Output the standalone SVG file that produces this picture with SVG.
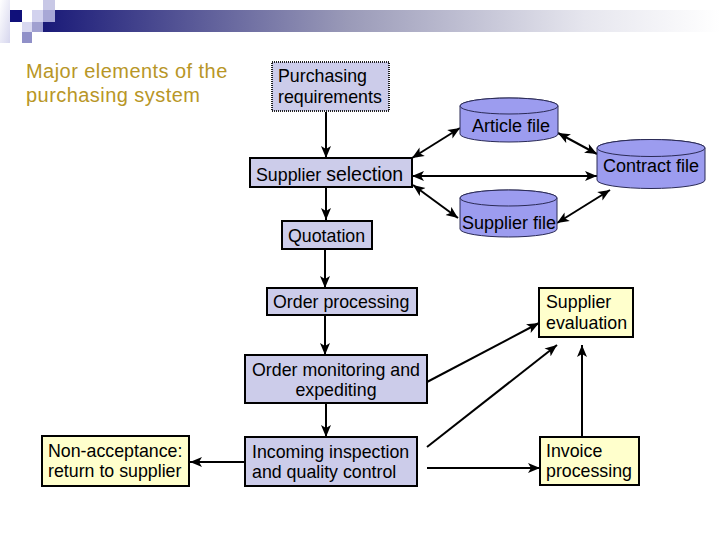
<svg xmlns="http://www.w3.org/2000/svg" width="720" height="540" viewBox="0 0 720 540">
<defs>
<linearGradient id="bar" x1="0" y1="0" x2="1" y2="0">
<stop offset="0" stop-color="#1a1a78"/>
<stop offset="0.45" stop-color="#9a9ab8"/>
<stop offset="0.8" stop-color="#e6e6ee"/>
<stop offset="1" stop-color="#ffffff"/>
</linearGradient>
<linearGradient id="fade" x1="0" y1="0" x2="1" y2="1">
<stop offset="0" stop-color="#ffffff"/>
<stop offset="1" stop-color="#d6d6ee"/>
</linearGradient>
<marker id="ah" markerUnits="userSpaceOnUse" markerWidth="13" markerHeight="11" refX="12" refY="5" orient="auto-start-reverse" viewBox="0 0 13 10">
<path d="M0,0 L12,5 L0,10 L3,5 Z" fill="#000"/>
</marker>
<style>
.box{fill:#ccccea;stroke:#000;stroke-width:2}
.ybox{fill:#ffffcc;stroke:#000;stroke-width:2}
.dot{fill:#ccccea;stroke:#222;stroke-width:2;stroke-dasharray:1 1}
.cyl{fill:#9c9cef;stroke:#2a2a55;stroke-width:1}
.t{font-family:"Liberation Sans",Arial,sans-serif;font-size:17.8px;fill:#000}
.ct{font-family:"Liberation Sans",Arial,sans-serif;font-size:18px;fill:#000;text-anchor:middle}
.title{font-family:"Liberation Sans",Arial,sans-serif;font-size:20px;letter-spacing:0.45px;fill:#b89626}
.c{stroke:#000;stroke-width:2;fill:none}
.e{marker-end:url(#ah)}
.b{marker-start:url(#ah);marker-end:url(#ah)}
</style>
</defs>
<g id="header">
<rect x="43" y="10" width="677" height="22" fill="url(#bar)"/>
<rect x="0" y="0" width="10" height="43" fill="url(#fade)"/>
<rect x="10" y="10" width="12" height="12" fill="#10107a"/>
<rect x="43" y="0" width="12" height="10" fill="#c8c8e6"/>
<rect x="32" y="10" width="11" height="12" fill="#d2d2ee"/>
<rect x="43" y="10" width="12" height="12" fill="#a8a8d6"/>
<rect x="22" y="22" width="10" height="10" fill="#d8d8f0"/>
<rect x="32" y="22" width="11" height="10" fill="#a0a0d0"/>
<rect x="22" y="32" width="10" height="11" fill="#9090c8"/>
</g>
<g id="title">
<text class="title" x="26" y="78">Major elements of the</text>
<text class="title" x="26" y="102">purchasing system</text>
</g>
<g id="connectors">
<path class="c e" d="M326,112 L326,158"/>
<path class="c e" d="M326,187 L326,220"/>
<path class="c e" d="M325,249 L325,288"/>
<path class="c e" d="M325,315 L325,355"/>
<path class="c e" d="M326,403 L326,437"/>
<path class="c e" d="M245,462 L190,462"/>
<path class="c e" d="M427,382 L539,323"/>
<path class="c e" d="M427,447 L557,345"/>
<path class="c e" d="M427,468 L540,468"/>
<path class="c e" d="M582,437 L582,345"/>
<path class="c b" d="M412,158 L460,128"/>
<path class="c b" d="M412,176 L597,176"/>
<path class="c b" d="M413,185 L458,218"/>
<path class="c b" d="M558,133 L597,154"/>
<path class="c b" d="M557,223 L610,190"/>
</g>
<g id="purchasing-requirements">
<rect class="dot" x="272" y="62" width="117" height="49"/>
<text class="t" x="278" y="82">Purchasing</text>
<text class="t" x="278" y="103">requirements</text>
</g>
<g id="supplier-selection">
<rect class="box" x="250" y="158" width="162" height="29"/>
<text class="t" x="256" y="181">Supplier <tspan font-size="19.5">selection</tspan></text>
</g>
<g id="quotation">
<rect class="box" x="282" y="221" width="90" height="28"/>
<text class="t" x="288" y="242">Quotation</text>
</g>
<g id="order-processing">
<rect class="box" x="267" y="288" width="150" height="27"/>
<text class="t" x="273" y="308">Order processing</text>
</g>
<g id="order-monitoring">
<rect class="box" x="245" y="355" width="182" height="48"/>
<text class="t" x="336" y="376" text-anchor="middle">Order monitoring and</text>
<text class="t" x="336" y="396" text-anchor="middle">expediting</text>
</g>
<g id="incoming-inspection">
<rect class="box" x="245" y="437" width="172" height="49"/>
<text class="t" x="252" y="458">Incoming inspection</text>
<text class="t" x="252" y="478">and quality control</text>
</g>
<g id="non-acceptance">
<rect class="ybox" x="42" y="436" width="147" height="50"/>
<text class="t" x="48" y="457">Non-acceptance:</text>
<text class="t" x="48" y="477">return to supplier</text>
</g>
<g id="supplier-evaluation">
<rect class="ybox" x="539" y="288" width="94" height="49"/>
<text class="t" x="546" y="308">Supplier</text>
<text class="t" x="546" y="329">evaluation</text>
</g>
<g id="invoice-processing">
<rect class="ybox" x="540" y="437" width="99" height="48"/>
<text class="t" x="546" y="457">Invoice</text>
<text class="t" x="546" y="477">processing</text>
</g>
<g id="article-file">
<path class="cyl" d="M460,106 A49,8 0 0 1 558,106 L558,134 A49,8 0 0 1 460,134 Z"/>
<ellipse class="cyl" cx="509" cy="106" rx="49" ry="8"/>
<text class="ct" x="511" y="132">Article file</text>
</g>
<g id="contract-file">
<path class="cyl" d="M597,148 A54,8.5 0 0 1 705,148 L705,180 A54,8.5 0 0 1 597,180 Z"/>
<ellipse class="cyl" cx="651" cy="148" rx="54" ry="8.5"/>
<text class="ct" x="651" y="172">Contract file</text>
</g>
<g id="supplier-file">
<path class="cyl" d="M460,198 A48.5,8 0 0 1 557,198 L557,229 A48.5,8 0 0 1 460,229 Z"/>
<ellipse class="cyl" cx="508.5" cy="198" rx="48.5" ry="8"/>
<text class="ct" x="509" y="229">Supplier file</text>
</g>
</svg>
